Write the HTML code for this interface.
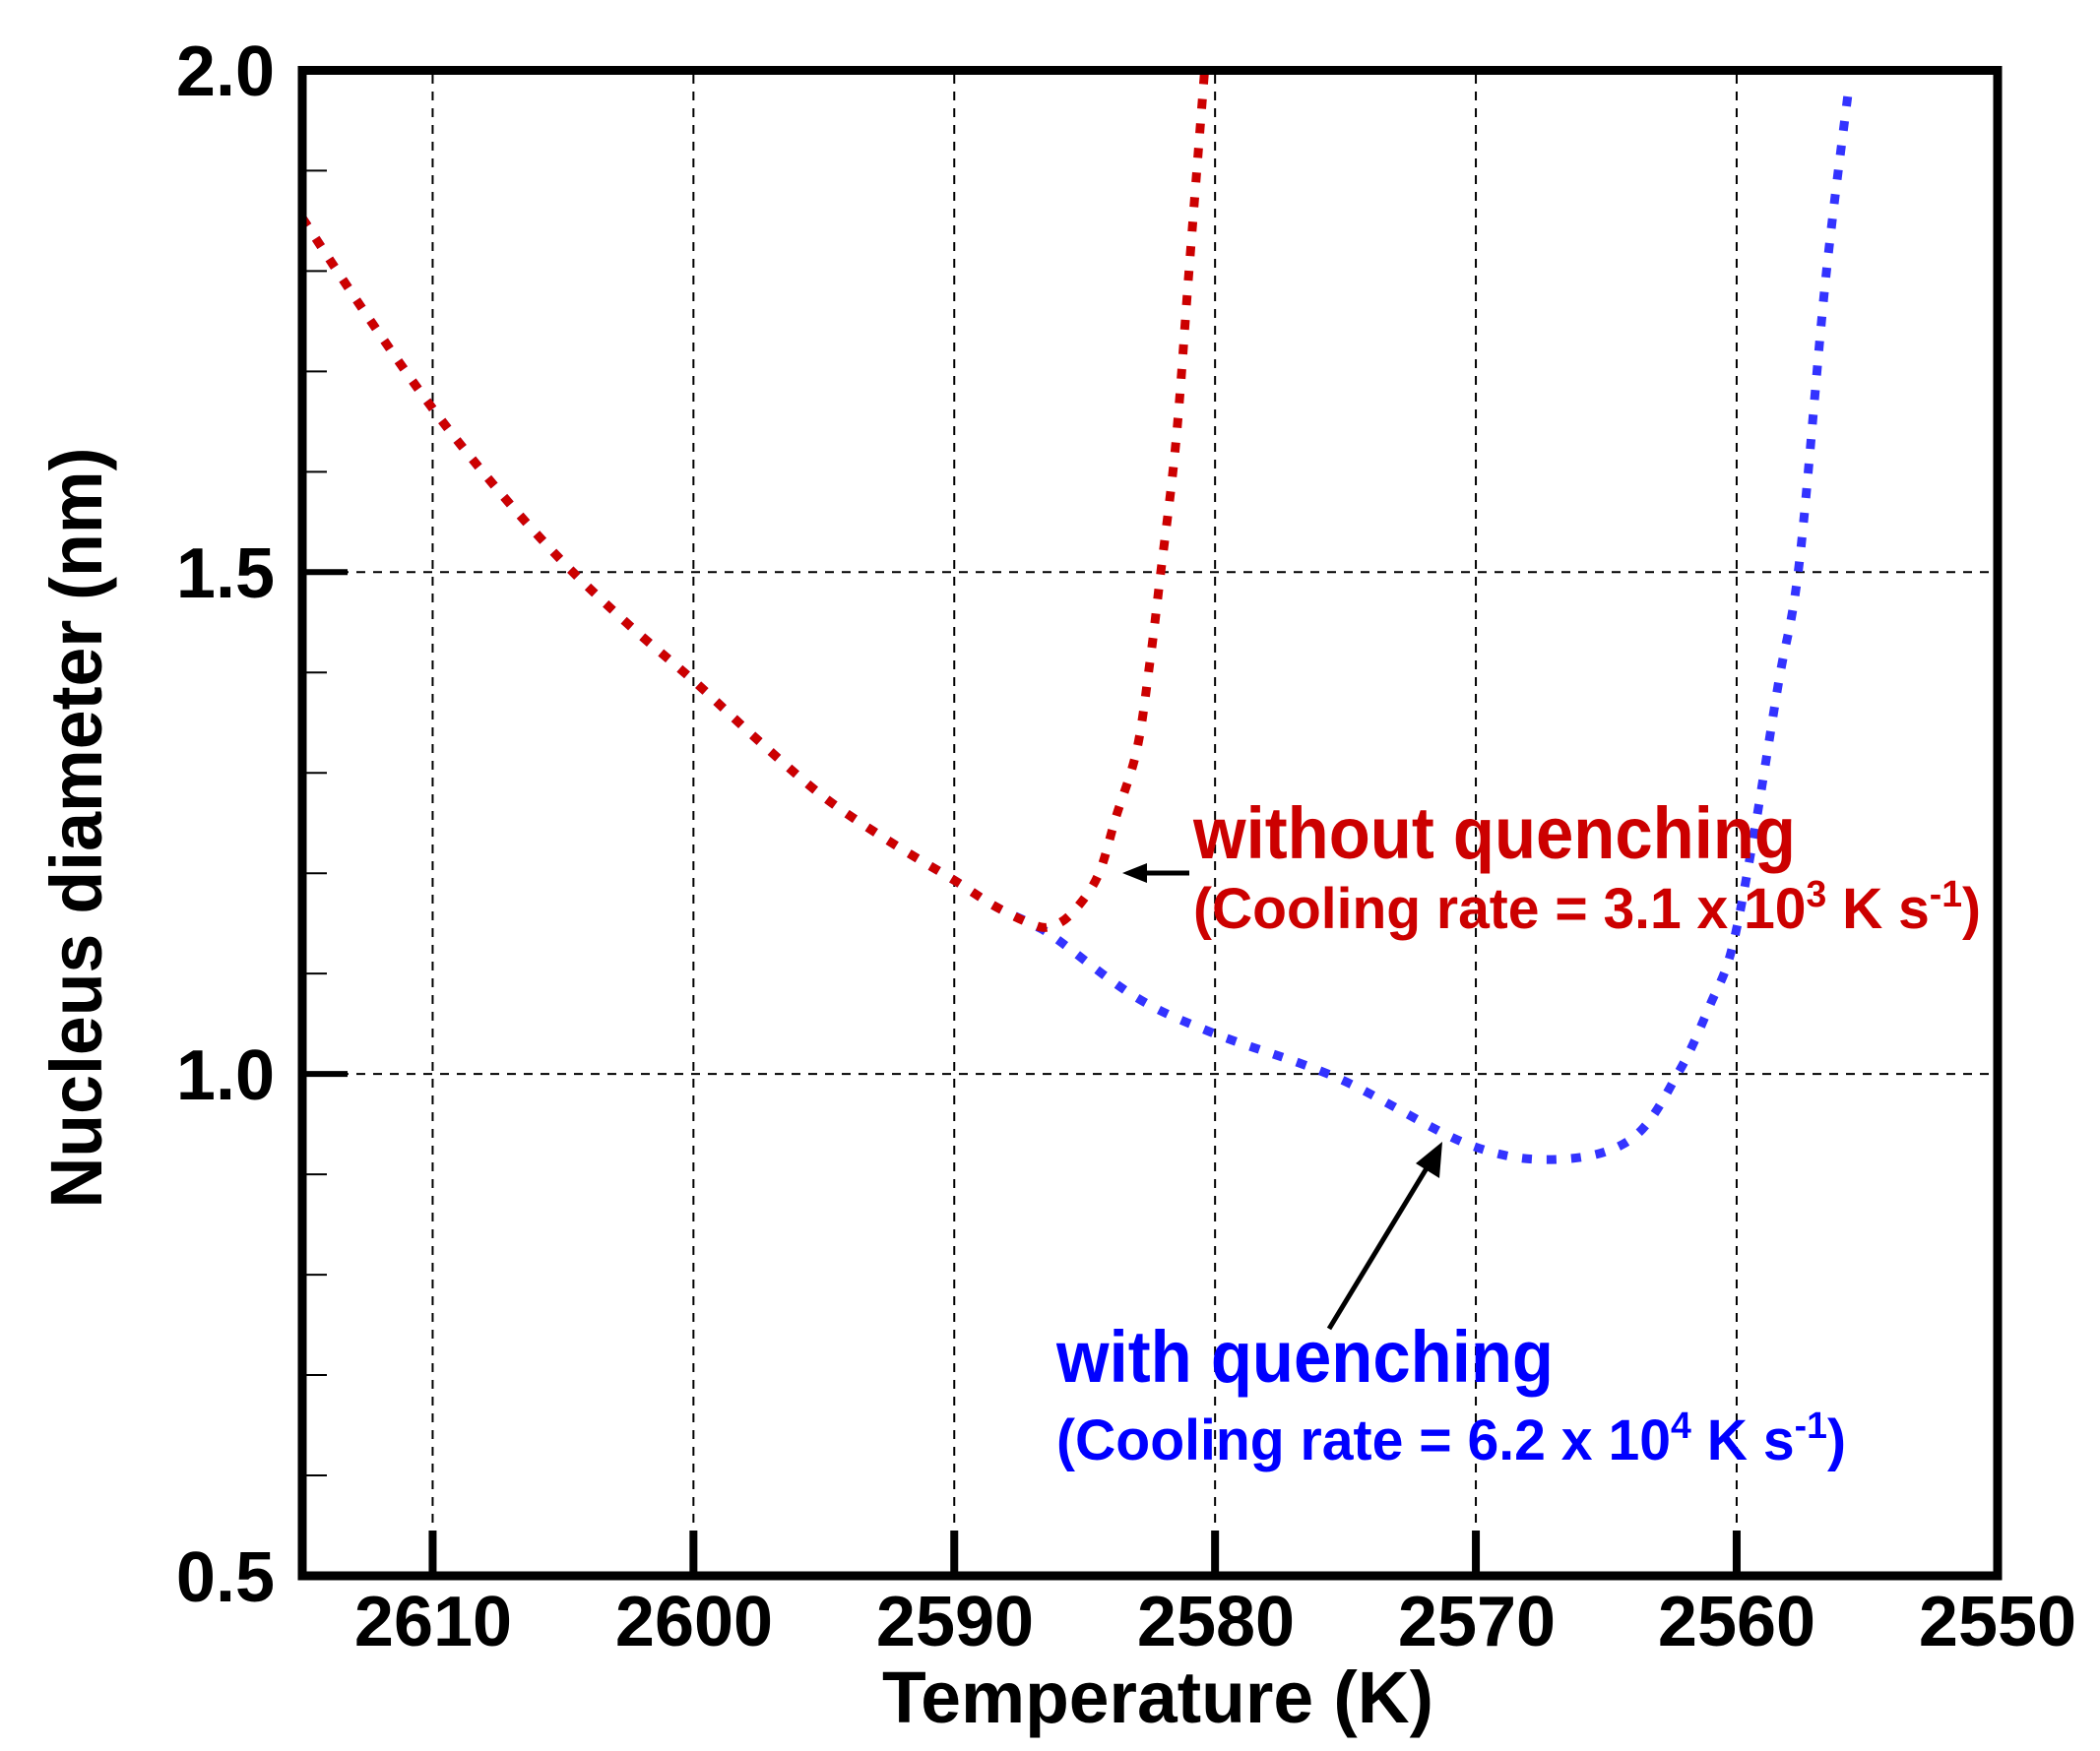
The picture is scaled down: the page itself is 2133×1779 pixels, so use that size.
<!DOCTYPE html>
<html><head><meta charset="utf-8"><style>html,body{margin:0;padding:0;background:#fff}svg{display:block}</style></head>
<body>
<svg id="s" width="2133" height="1779" viewBox="0 0 2133 1779" xmlns="http://www.w3.org/2000/svg" font-family="Liberation Sans, Arial, sans-serif" font-weight="bold">
<g id="grid" stroke="#000" stroke-width="2" stroke-dasharray="9 8"></g>
<g id="ticks" stroke="#000"></g>
<path id="blue" fill="none" stroke="#3333ff" stroke-width="9" stroke-dasharray="10 15"/>
<path id="red" fill="none" stroke="#cc0000" stroke-width="9" stroke-dasharray="10 15"/>
<rect x="307" y="71.5" width="1722" height="1529.5" fill="none" stroke="#000" stroke-width="9"/>
<g font-size="72" text-anchor="end">
<text x="279" y="97">2.0</text>
<text x="279" y="607">1.5</text>
<text x="279" y="1117">1.0</text>
<text x="279" y="1627">0.5</text>
</g>
<g font-size="72" text-anchor="middle">
<text x="440" y="1672">2610</text>
<text x="705" y="1672">2600</text>
<text x="970" y="1672">2590</text>
<text x="1235" y="1672">2580</text>
<text x="1500" y="1672">2570</text>
<text x="1764" y="1672">2560</text>
<text x="2029" y="1672">2550</text>
</g>
<text x="1176" y="1750" font-size="74" text-anchor="middle" textLength="560" lengthAdjust="spacingAndGlyphs">Temperature (K)</text>
<text transform="translate(103,841) rotate(-90)" font-size="74" text-anchor="middle" textLength="773" lengthAdjust="spacingAndGlyphs">Nucleus diameter (nm)</text>
<text x="1212" y="872" font-size="74" fill="#cc0000" textLength="612" lengthAdjust="spacingAndGlyphs">without quenching</text>
<text x="1212" y="943" font-size="58" fill="#cc0000" textLength="800" lengthAdjust="spacingAndGlyphs">(Cooling rate = 3.1 x 10<tspan font-size="38" dy="-22">3</tspan><tspan dy="22"> K s</tspan><tspan font-size="38" dy="-22">-1</tspan><tspan dy="22">)</tspan></text>
<text x="1073" y="1404" font-size="74" fill="#0000ff" textLength="505" lengthAdjust="spacingAndGlyphs">with quenching</text>
<text x="1073" y="1483" font-size="58" fill="#0000ff" textLength="802" lengthAdjust="spacingAndGlyphs">(Cooling rate = 6.2 x 10<tspan font-size="38" dy="-22">4</tspan><tspan dy="22"> K s</tspan><tspan font-size="38" dy="-22">-1</tspan><tspan dy="22">)</tspan></text>
<line x1="1208" y1="887" x2="1160" y2="887" stroke="#000" stroke-width="5"/>
<polygon points="1140,887 1165,877 1165,897" fill="#000"/>
<line x1="1350" y1="1350" x2="1452" y2="1182" stroke="#000" stroke-width="5"/>
<polygon points="1465,1160 1462,1197 1438,1182" fill="#000"/>
</svg>
<script>
var X=function(T){return 307+(2615-T)*26.49},Y=function(D){return 1601-(D-0.5)*1019.7};
var ns="http://www.w3.org/2000/svg";
function el(p,t,a){var e=document.createElementNS(ns,t);for(var k in a)e.setAttribute(k,a[k]);p.appendChild(e);}
var g=document.getElementById('grid');
[2610,2600,2590,2580,2570,2560].forEach(function(T){el(g,'line',{x1:X(T),x2:X(T),y1:76,y2:1597});});
[1.5,1.0].forEach(function(D){el(g,'line',{x1:311,x2:2025,y1:Y(D),y2:Y(D)});});
var t=document.getElementById('ticks');
[2610,2600,2590,2580,2570,2560].forEach(function(T){el(t,'line',{x1:X(T),x2:X(T),y1:1597,y2:1555,'stroke-width':8});});
for(var i=6;i<20;i++){var D=i/10;var maj=(i==10||i==15);el(t,'line',{x1:311,x2:maj?353:332,y1:Y(D),y2:Y(D),'stroke-width':maj?6:2});}
var common=[[2615,1.853],[2612.5,1.755],[2610,1.663],[2607.5,1.582],[2605,1.51],[2602.5,1.448],[2600,1.392],[2597.5,1.332],[2595,1.276],[2592.5,1.232],[2590,1.193],[2588.5,1.168],[2587,1.149]];
var red=common.concat([[2586.3,1.147],[2585.5,1.16],[2584.5,1.197],[2583.8,1.256],[2583,1.323],[2582.5,1.41],[2582.1,1.496],[2581.5,1.63],[2581,1.80],[2580.4,2.0]]);
var blue=common.concat([[2586.1,1.135],[2583,1.076],[2580,1.04],[2575.3,0.996],[2570.2,0.929],[2566.8,0.915],[2564,0.936],[2562.2,1.003],[2561,1.07],[2560.2,1.123],[2559.4,1.229],[2558.4,1.389],[2557.6,1.509],[2556.6,1.789],[2555.7,1.983]]);
function path(pts){var p=pts.map(function(q){return [X(q[0]),Y(q[1])]});var d='M'+p[0][0]+','+p[0][1];
for(var i=0;i<p.length-1;i++){var p0=p[i-1]||p[i],p1=p[i],p2=p[i+1],p3=p[i+2]||p2;
d+=' C'+(p1[0]+(p2[0]-p0[0])/6)+','+(p1[1]+(p2[1]-p0[1])/6)+' '+(p2[0]-(p3[0]-p1[0])/6)+','+(p2[1]-(p3[1]-p1[1])/6)+' '+p2[0]+','+p2[1];}return d;}
document.getElementById('red').setAttribute('d',path(red));
document.getElementById('blue').setAttribute('d',path(blue));
</script>
</body></html>
